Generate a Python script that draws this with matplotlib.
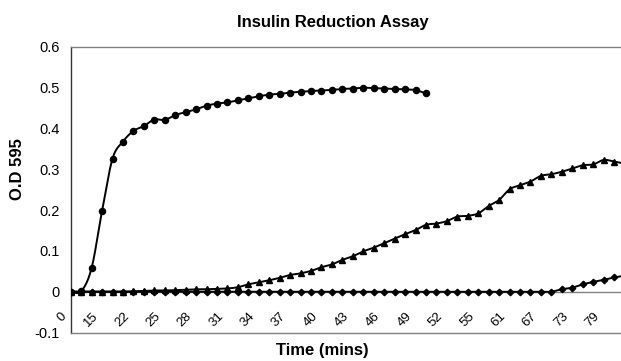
import numpy as np
import matplotlib
matplotlib.use("Agg")
import matplotlib.pyplot as plt
from matplotlib.transforms import offset_copy

# Time labels (minutes) for each reading (category axis)
times = [0, 5, 10, 15, 18, 20, 22, 23, 24, 25, 26, 27, 28, 29, 30, 31, 32, 33,
         34, 35, 36, 37, 38, 39, 40, 41, 42, 43, 44, 45, 46, 47, 48, 49, 50, 51,
         52, 53, 54, 55, 57, 59, 61, 63, 65, 67, 69, 71, 73, 75, 77, 79, 81, 83]

series_circle = [0.000, 0.001, 0.058, 0.198, 0.326, 0.368, 0.394, 0.406, 0.422,
                 0.421, 0.433, 0.440, 0.447, 0.456, 0.461, 0.464, 0.469, 0.474,
                 0.479, 0.483, 0.485, 0.488, 0.490, 0.492, 0.493, 0.495, 0.497,
                 0.498, 0.500, 0.499, 0.498, 0.497, 0.496, 0.494, 0.486]

series_triangle = [0.000, 0.000, 0.000, 0.000, 0.000, 0.000, 0.001, 0.002, 0.003,
                   0.003, 0.004, 0.005, 0.006, 0.006, 0.007, 0.008, 0.011, 0.018,
                   0.023, 0.028, 0.034, 0.041, 0.045, 0.051, 0.060, 0.067, 0.078,
                   0.087, 0.099, 0.108, 0.119, 0.130, 0.141, 0.151, 0.164, 0.167,
                   0.173, 0.184, 0.186, 0.192, 0.210, 0.225, 0.251, 0.261, 0.270,
                   0.284, 0.288, 0.294, 0.302, 0.310, 0.312, 0.323, 0.319, 0.314]

series_diamond = [0.0] * 47 + [0.006, 0.010, 0.018, 0.024, 0.029, 0.035, 0.039]

yticks = [-0.1, 0, 0.1, 0.2, 0.3, 0.4, 0.5, 0.6]
ytick_labels = ["-0.1", "0", "0.1", "0.2", "0.3", "0.4", "0.5", "0.6"]

plt.rcParams['font.family'] = ['Liberation Sans', 'DejaVu Sans']


def smooth(y, n=12):
    """Bezier smoothing through the points (like Excel's smoothed line), for drawing."""
    y = np.asarray(y, dtype=float)
    x = np.arange(len(y), dtype=float)
    P = np.column_stack([x, y])
    P = np.vstack([P[0], P, P[-1]])
    out = []
    t = np.linspace(0, 1, n, endpoint=False)
    for i in range(1, len(P) - 2):
        p0, p1, p2, p3 = P[i - 1], P[i], P[i + 1], P[i + 2]
        c1 = p1 + (p2 - p0) / 6.0
        c2 = p2 - (p3 - p1) / 6.0
        for tt in t:
            b = ((1 - tt) ** 3) * p1 + 3 * ((1 - tt) ** 2) * tt * c1 + \
                3 * (1 - tt) * tt ** 2 * c2 + tt ** 3 * p2
            out.append(b)
    out.append(P[-2])
    out = np.array(out)
    return out[:, 0], out[:, 1]


W, H = 621, 361
fig = plt.figure(figsize=(W / 100, H / 100), dpi=100)

left_px, right_px = 70.7, 621
y0_px, ytop_px, ybot_px = 291.7, 46.9, 332.5
spacing = 10.45
ax = fig.add_axes([left_px / W, (H - ybot_px) / H,
                   (right_px - left_px) / W, (ybot_px - ytop_px) / H])

for data, mk, ms in [(series_circle, 'o', 4.4),
                     (series_triangle, '^', 4.8),
                     (series_diamond, 'D', 3.3)]:
    sx, sy = smooth(data)
    ax.plot(sx, sy, color='black', lw=1.4, zorder=3)
    ax.plot(np.arange(len(data)), data, linestyle='none', marker=mk,
            markersize=ms, color='black', zorder=4)

ax.axhline(0, color='#808080', lw=1.0, zorder=2)

ax.set_xlim(0, (right_px - left_px) / spacing)
ax.set_ylim(-0.1, 0.6)
ax.set_yticks(yticks)
ax.set_yticklabels(ytick_labels, fontsize=10.5)
ax.tick_params(axis='y', length=0, pad=8)
ax.set_xticks([])

for s in ['top', 'bottom']:
    ax.spines[s].set_color('#808080')
    ax.spines[s].set_linewidth(1.0)
ax.spines['right'].set_visible(False)
ax.spines['left'].set_color('#333333')
ax.spines['left'].set_linewidth(1.0)

trans = offset_copy(ax.transData, fig=fig, x=-6, y=-23, units='dots')
for k in range(0, len(times), 3):
    ax.text(k, 0, str(times[k]), rotation=45, ha='right', va='center',
            rotation_mode='anchor', fontsize=9.5, transform=trans, clip_on=False)

fig.text(333 / W, 1 - 22 / H, "Insulin Reduction Assay",
         ha='center', va='center', fontsize=12, fontweight='bold')
fig.text(322 / W, 1 - 351 / H, "Time (mins)", ha='center', va='center',
         fontsize=12, fontweight='bold')
fig.text(17 / W, 1 - 169 / H, "O.D 595", ha='center', va='center',
         rotation=90, fontsize=12, fontweight='bold')

fig.savefig("out.png", dpi=100)
